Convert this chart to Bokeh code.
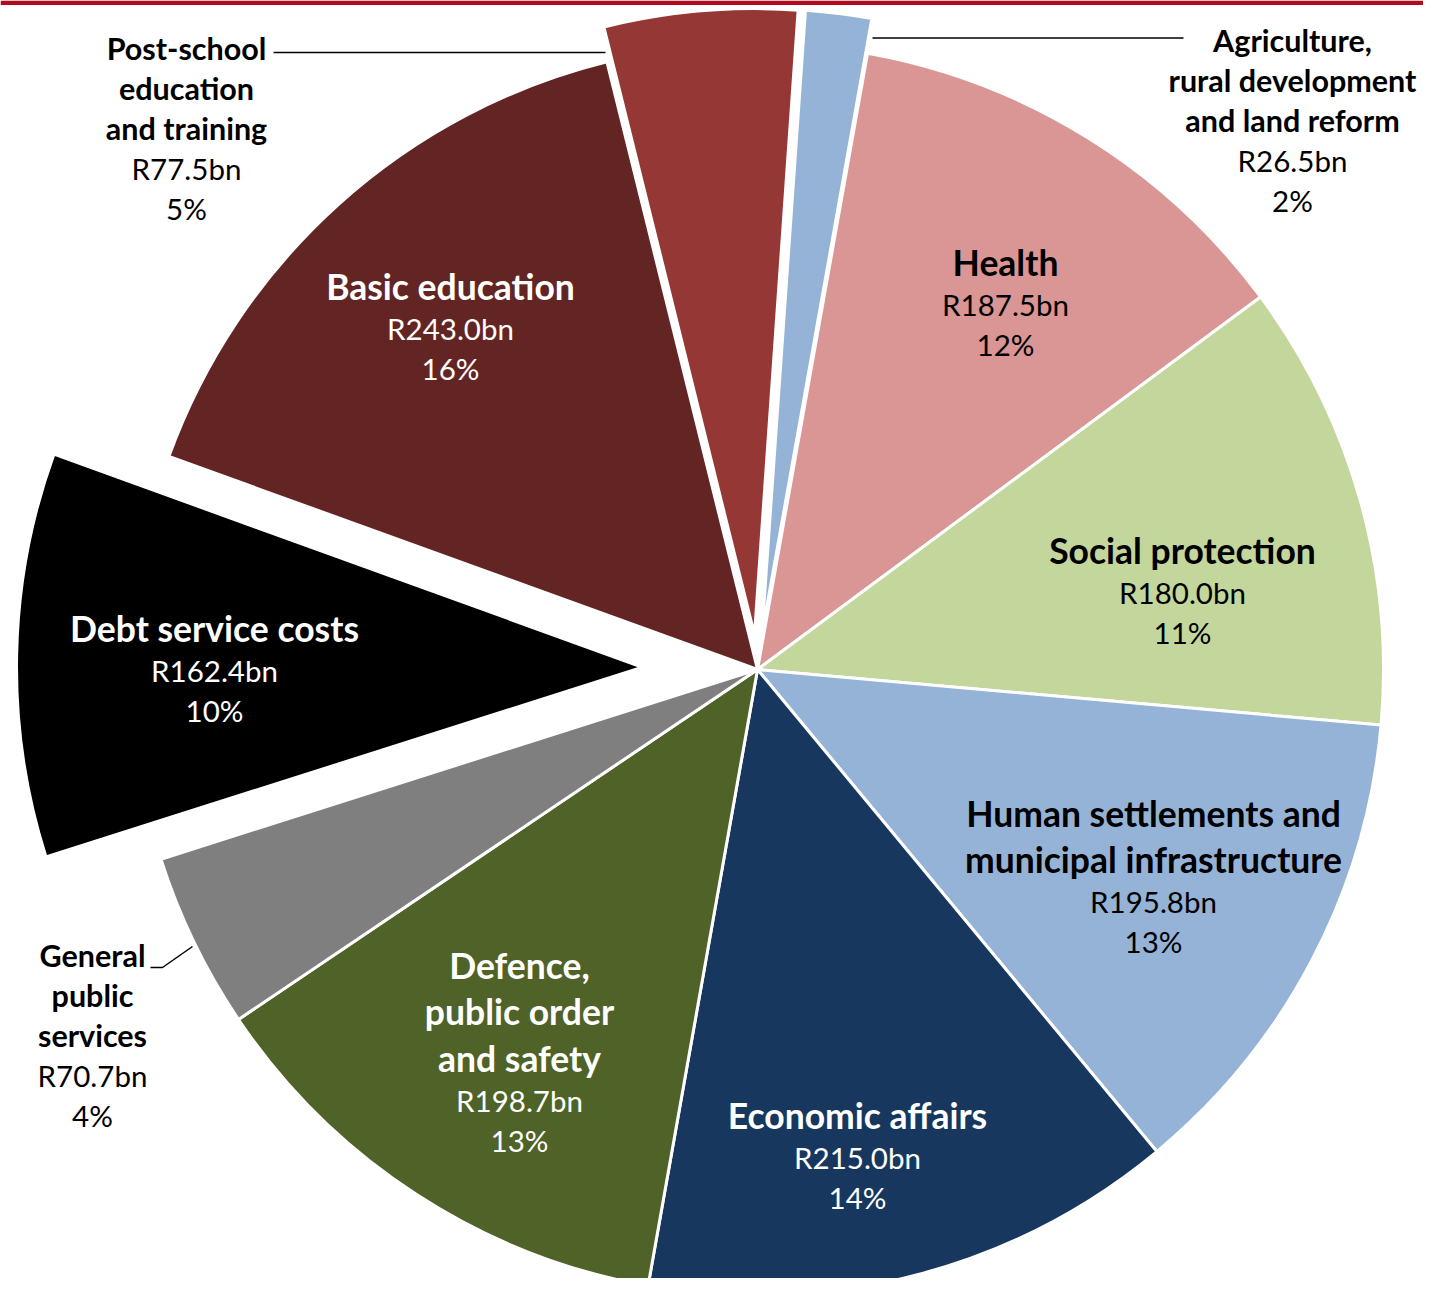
import math
from bokeh.plotting import figure
from bokeh.models import Range1d, ColumnDataSource
from bokeh.core.properties import value
from bokeh.embed import file_html
from bokeh.resources import INLINE

# ---------------- data ----------------
categories = [
    "Agriculture, rural development and land reform",
    "Health",
    "Social protection",
    "Human settlements and municipal infrastructure",
    "Economic affairs",
    "Defence, public order and safety",
    "General public services",
    "Debt service costs",
    "Basic education",
    "Post-school education and training",
]
amounts_bn = [26.5, 187.5, 180.0, 195.8, 215.0, 198.7, 70.7, 162.4, 243.0, 77.5]
pct_labels = ["2%", "12%", "11%", "13%", "14%", "13%", "4%", "10%", "16%", "5%"]
title_lines = [
    ["Agriculture,", "rural development", "and land reform"],
    ["Health"],
    ["Social protection"],
    ["Human settlements and", "municipal infrastructure"],
    ["Economic affairs"],
    ["Defence,", "public order", "and safety"],
    ["General", "public", "services"],
    ["Debt service costs"],
    ["Basic education"],
    ["Post-school", "education", "and training"],
]

# ---------------- styles / layout ----------------
colors = ["#95B3D7", "#D99694", "#C3D69B", "#95B3D7", "#17375E",
          "#4F6228", "#7F7F7F", "#000000", "#632523", "#953735"]
text_colors = ["black", "black", "black", "black", "white",
               "white", "black", "white", "white", "black"]
outside = [True, False, False, False, False, False, True, False, False, True]
explode_px = [35, 0, 0, 0, 0, 0, 0, 115, 0, 35]
# label anchor: (centre x, first baseline y) in page pixels
label_anchor = [(1292, 52), (1005, 274), (1182, 562), (1153, 825), (857, 1127),
                (519, 977), (92, 967), (214, 640), (450, 298), (186, 60)]
TEXT_DY = -12.5   # correction for the renderer's baseline placement

CX, CY, R = 757.0, 669.0, 626.0
START_DEG = 4.0   # clockwise from 12 o'clock
FONT = value("Lato")

W, H = 1423, 1278
p = figure(width=W, height=H, output_backend="svg", toolbar_location=None,
           x_range=Range1d(0, W), y_range=Range1d(-H, 0),
           x_axis_location=None, y_axis_location=None, min_border=0,
           outline_line_color=None, background_fill_color="white",
           border_fill_color="white")
p.xgrid.visible = False
p.ygrid.visible = False

# top rule
p.quad(left=0, right=W + 20, top=0, bottom=-4.5, fill_color="#B20A1E", line_color=None)

# wedges
total = sum(amounts_bn)
xs, ys, starts, ends = [], [], [], []
theta = START_DEG
for i, v in enumerate(amounts_bn):
    span = v / total * 360.0
    t1, t2 = theta, theta + span
    tm = (t1 + t2) / 2
    d = explode_px[i]
    cx = CX + d * math.sin(math.radians(tm))
    cy = CY - d * math.cos(math.radians(tm))
    xs.append(cx)
    ys.append(-cy)
    starts.append(math.radians(90 - t1))
    ends.append(math.radians(90 - t2))
    theta = t2

src = ColumnDataSource(dict(x=xs, y=ys, start=starts, end=ends, color=colors, cat=categories))
p.wedge(x="x", y="y", radius=R, start_angle="start", end_angle="end", direction="clock",
        fill_color="color", line_color="white", line_width=3, source=src)

# leader lines
p.line([273, 605], [-52, -52], line_color="black", line_width=1.5)
p.line([872, 1183], [-37.5, -37.5], line_color="black", line_width=1.5)
p.line([150, 162, 192], [-967, -967, -946], line_color="black", line_width=1.5)

# labels
groups = {"title_in": dict(x=[], y=[], t=[], c=[]),
          "title_out": dict(x=[], y=[], t=[], c=[]),
          "val": dict(x=[], y=[], t=[], c=[])}
for i in range(len(categories)):
    ax, ay = label_anchor[i]
    y = ay + TEXT_DY
    key = "title_out" if outside[i] else "title_in"
    tstep = 40 if outside[i] else 46.5
    vgap = 40 if outside[i] else 42
    lines = title_lines[i]
    for j, ln in enumerate(lines):
        g = groups[key]
        g["x"].append(ax); g["y"].append(-y); g["t"].append(ln); g["c"].append(text_colors[i])
        if j < len(lines) - 1:
            y += tstep
    y += vgap
    g = groups["val"]
    g["x"].append(ax); g["y"].append(-y); g["t"].append("R%.1fbn" % amounts_bn[i]); g["c"].append(text_colors[i])
    y += 40
    g["x"].append(ax); g["y"].append(-y); g["t"].append(pct_labels[i]); g["c"].append(text_colors[i])

sizes = {"title_in": ("35.5px", "bold"), "title_out": ("30.5px", "bold"), "val": ("29.5px", "normal")}
for key, g in groups.items():
    s = ColumnDataSource(g)
    fs, st = sizes[key]
    p.text(x="x", y="y", text="t", text_color="c", source=s, text_align="center",
           text_baseline="alphabetic", text_font=FONT, text_font_size=fs,
           text_font_style=st)

open("out.html", "w").write(file_html(p, INLINE, title="Consolidated expenditure"))
